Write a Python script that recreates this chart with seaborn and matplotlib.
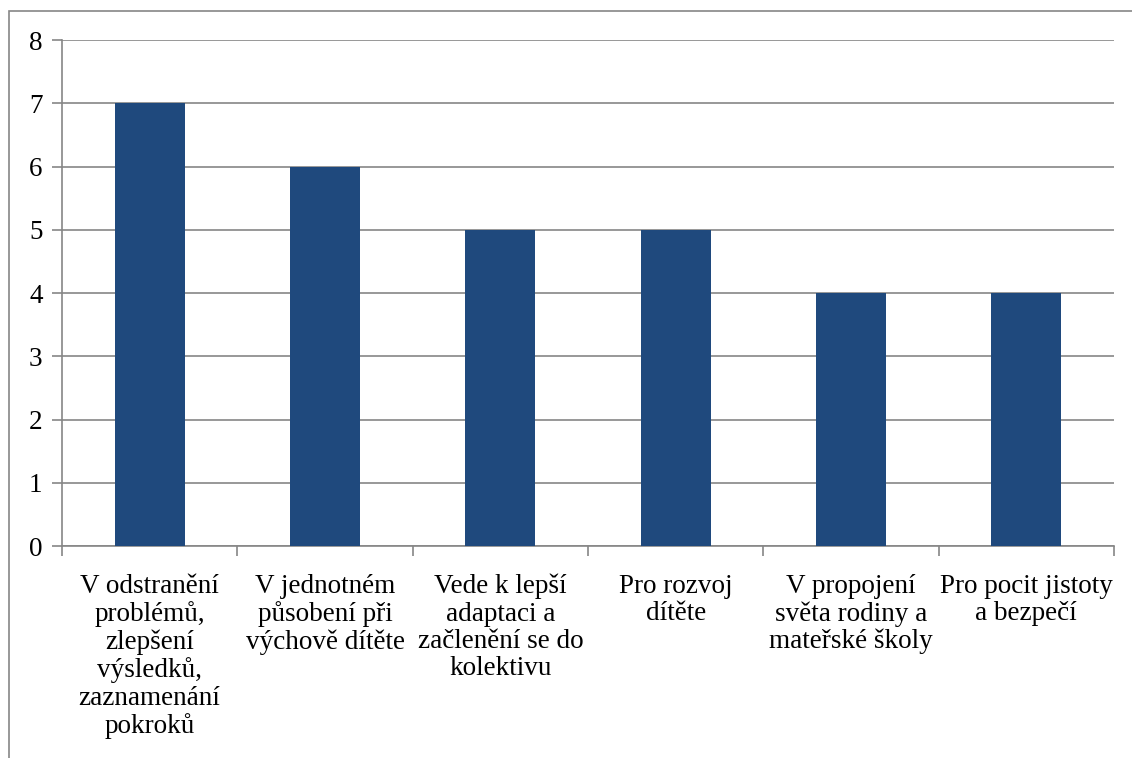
import matplotlib
matplotlib.use("Agg")
import matplotlib.pyplot as plt
import seaborn as sns
import pandas as pd
from matplotlib.patches import Rectangle

categories = [
    "V odstranění\nproblémů,\nzlepšení\nvýsledků,\nzaznamenání\npokroků",
    "V jednotném\npůsobení při\nvýchově dítěte",
    "Vede k lepší\nadaptaci a\nzačlenění se do\nkolektivu",
    "Pro rozvoj\ndítěte",
    "V propojení\nsvěta rodiny a\nmateřské školy",
    "Pro pocit jistoty\na bezpečí",
]
values = [7, 6, 5, 5, 4, 4]
y_ticks = [0, 1, 2, 3, 4, 5, 6, 7, 8]

df = pd.DataFrame({"kategorie": categories, "pocet": values})

sns.set_style("white")
plt.rcParams["font.family"] = ["Liberation Serif", "DejaVu Serif"]

fig = plt.figure(figsize=(11.32, 7.58), dpi=100)
ax = fig.add_axes([62 / 1132, 1 - 546 / 758, (1114 - 62) / 1132, (546 - 40) / 758])

sns.barplot(data=df, x="kategorie", y="pocet", color="#1F497D", width=0.4,
            saturation=1, linewidth=0, ax=ax, zorder=3)

grid_c = "#868686"
ax.set_ylim(0, 8)
ax.set_xlim(-0.5, len(categories) - 0.5)
ax.set_yticks(y_ticks)
ax.set_yticklabels([str(t) for t in y_ticks], fontsize=19.5, color="black")
ax.yaxis.grid(True, color=grid_c, linewidth=1.2, zorder=0)
ax.set_axisbelow(True)

ax.set_xticks(range(len(categories)))
ax.set_xticklabels(categories, fontsize=19.5, linespacing=1.12, color="black")
ax.tick_params(axis="x", which="major", length=0, pad=20, bottom=True)
ax.set_xticks([i - 0.5 for i in range(len(categories) + 1)], minor=True)
ax.tick_params(axis="x", which="minor", length=7, width=1.2, color=grid_c,
               direction="out", bottom=True)
ax.tick_params(axis="y", length=7, width=1.2, color=grid_c, direction="out",
               pad=7, left=True)

for s in ["top", "right"]:
    ax.spines[s].set_visible(False)
for s in ["left", "bottom"]:
    ax.spines[s].set_color(grid_c)
    ax.spines[s].set_linewidth(1.2)

ax.set_xlabel("")
ax.set_ylabel("")

# outer chart border (cut off at right and bottom in the original)
fig.patches.append(Rectangle((8.5 / 1132, -0.1), 1.2, 1.1 - 11.5 / 758,
                             transform=fig.transFigure, fill=False,
                             edgecolor=grid_c, linewidth=1.2))

fig.savefig("out.png", dpi=100)
